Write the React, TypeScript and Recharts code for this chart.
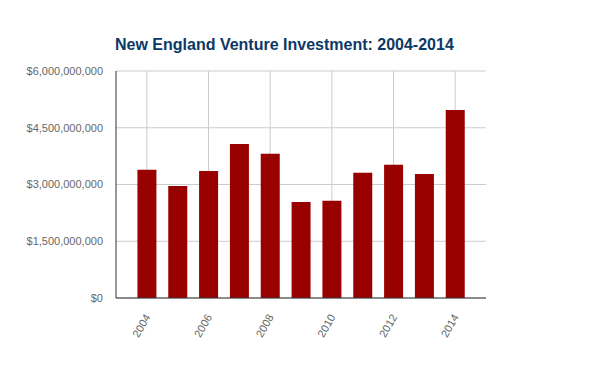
import React from 'react';
import {
    BarChart,
    Bar,
    XAxis,
    YAxis,
    ReferenceLine,
} from 'recharts';

const years = [2004, 2005, 2006, 2007, 2008, 2009, 2010, 2011, 2012, 2013, 2014];
const investment = [
    3.39e9, 2.96e9, 3.36e9, 4.07e9, 3.81e9, 2.54e9, 2.57e9, 3.31e9, 3.52e9, 3.28e9, 4.97e9,
];
const yTicks = [0, 1.5e9, 3e9, 4.5e9, 6e9];
const xTicks = [2004, 2006, 2008, 2010, 2012, 2014];
const xDomain: [number, number] = [2003, 2015];

const data = years.map((year, i) => ({ year, value: investment[i] }));

const FONT = '"Liberation Sans", Arial, sans-serif';

const formatMoney = (v: number) => '$' + Math.round(v).toLocaleString('en-US');

function YearTick({ x, y, payload }: any) {
    return (
        <g transform={`translate(${x + 4},${y + 11})`}>
            <text
                textAnchor="end"
                transform="rotate(-60)"
                fontSize={11}
                fontFamily={FONT}
                fill="#666"
            >
                {payload.value}
            </text>
        </g>
    );
}

export default function App() {
    return (
        <div
            style={{
                position: 'absolute',
                left: 0,
                top: 0,
                width: 600,
                height: 371,
                background: '#fff',
                fontFamily: FONT,
            }}
        >
            <div
                style={{
                    position: 'absolute',
                    left: 115,
                    top: 36,
                    fontSize: 16,
                    fontWeight: 'bold',
                    color: '#0c3866',
                    whiteSpace: 'nowrap',
                }}
            >
                New England Venture Investment: 2004-2014
            </div>
            <BarChart
                width={600}
                height={371}
                data={data}
                margin={{ top: 71, right: 114, bottom: 0, left: 0 }}
            >
                {/* grid drawn by hand: horizontal at y ticks, vertical only at labelled years */}
                {yTicks.map((t) => (
                    <ReferenceLine
                        key={`h-${t}`}
                        y={t}
                        stroke="#ccc"
                        strokeWidth={1}
                        zIndex={-50}
                    />
                ))}
                {xTicks.map((t) => (
                    <ReferenceLine
                        key={`v-${t}`}
                        x={t}
                        stroke="#ccc"
                        strokeWidth={1}
                        zIndex={-50}
                    />
                ))}
                <XAxis
                    dataKey="year"
                    type="number"
                    domain={xDomain}
                    ticks={xTicks}
                    tickLine={false}
                    axisLine={{ stroke: '#333', strokeWidth: 1 }}
                    tick={<YearTick />}
                    height={73}
                    interval={0}
                />
                <YAxis
                    domain={[0, 6e9]}
                    ticks={yTicks}
                    width={116}
                    tickLine={false}
                    tickSize={0}
                    tickMargin={13}
                    axisLine={{ stroke: '#333', strokeWidth: 1 }}
                    tickFormatter={formatMoney}
                    tick={{ fontSize: 11, fill: '#666', fontFamily: FONT }}
                />
                <Bar
                    dataKey="value"
                    fill="#990000"
                    barSize={19}
                    isAnimationActive={false}
                />
            </BarChart>
        </div>
    );
}
